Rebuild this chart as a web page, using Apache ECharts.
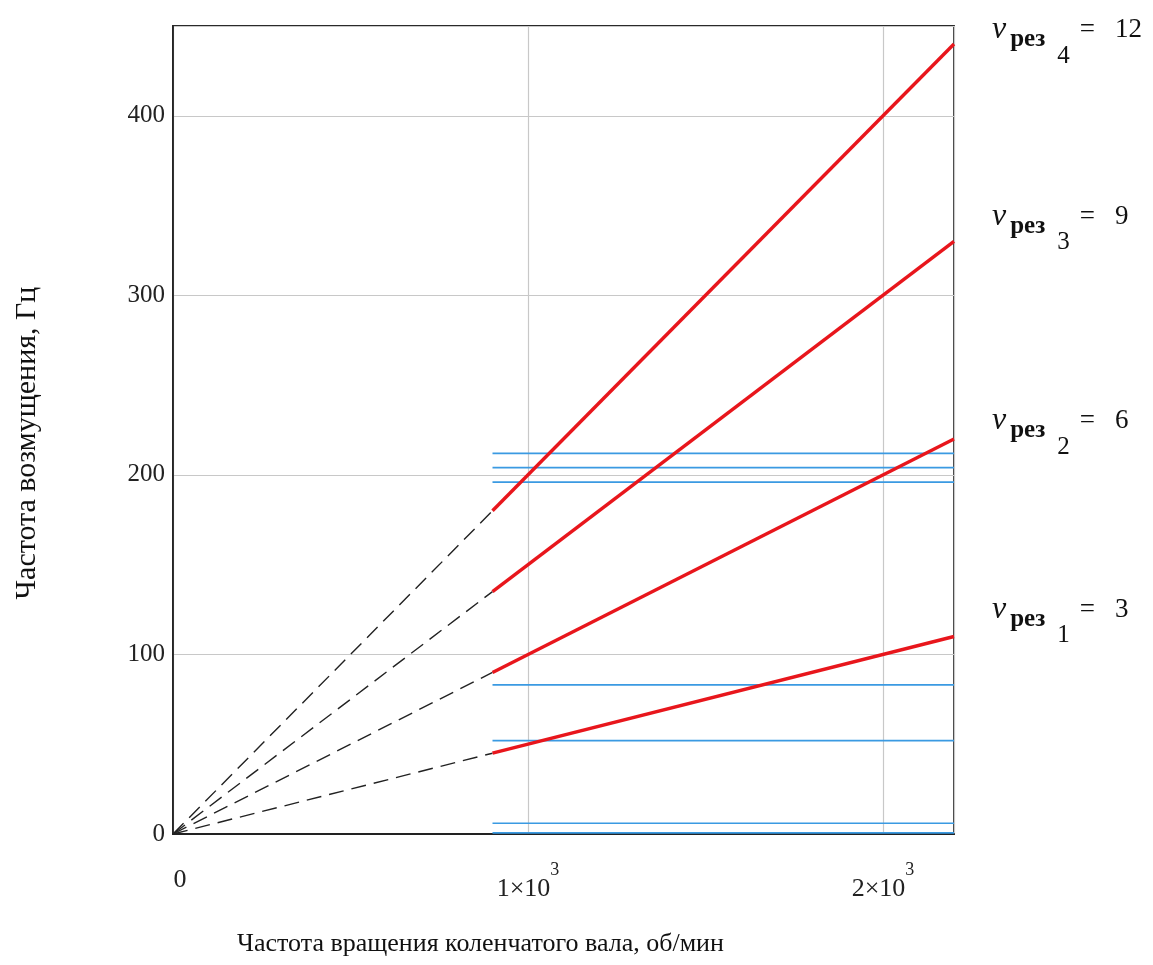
<!DOCTYPE html>
<html>
<head>
<meta charset="utf-8">
<script src="https://cdn.jsdelivr.net/npm/echarts@6/dist/echarts.min.js"></script>
<style>
  html, body { margin: 0; padding: 0; background: #fff; }
  #main { width: 1153px; height: 965px; }
</style>
</head>
<body>
<div id="main"></div>
<script>
// harmonic orders k, resonance frequency f = k * n / 60
var harmonics = [3, 6, 9, 12];
var dashedSpeed = [0, 900];
var solidSpeed = [900, 2200];
var dashedFreq = [[0, 45], [0, 90], [0, 135], [0, 180]];
var solidFreq = [[45, 110], [90, 220], [135, 330], [180, 440]];
// natural frequencies (blue)
var naturalSpeed = [900, 2200];
var naturalFreq = [0.6, 6, 52, 83, 196, 204, 212];
var xTicks = [0, 1000, 2000];
var yTicks = [0, 100, 200, 300, 400];

var labelDy = [-27, -18, -25, -14];
var serif = 'Liberation Serif';

var series = [];

naturalFreq.forEach(function (v) {
    series.push({
        type: 'line',
        data: [[naturalSpeed[0], v], [naturalSpeed[1], v]],
        symbol: 'none',
        silent: true,
        lineStyle: { color: '#3a9ae2', width: 1.7 },
        z: 3
    });
});

harmonics.forEach(function (k, i) {
    series.push({
        type: 'line',
        data: [[dashedSpeed[0], dashedFreq[i][0]], [dashedSpeed[1], dashedFreq[i][1]]],
        symbol: 'none',
        silent: true,
        lineStyle: { color: '#222', width: 1.4, type: [15, 8] },
        z: 2
    });
    series.push({
        type: 'line',
        data: [[solidSpeed[0], solidFreq[i][0]], [solidSpeed[1], solidFreq[i][1]]],
        symbol: 'none',
        silent: true,
        lineStyle: { color: '#e8161c', width: 3.4 },
        z: 4,
        endLabel: {
            show: true,
            offset: [30, labelDy[i]],
            formatter: function () {
                return '{nu|ν}{sub|рез}{idx|' + (i + 1) + '}{eq|=}{num|' + k + '}';
            },
            rich: {
                nu: { fontFamily: serif, fontStyle: 'italic', fontSize: 32, color: '#111' },
                sub: { fontFamily: serif, fontWeight: 'bold', fontSize: 25, color: '#111', padding: [20, 0, 0, 4] },
                idx: { fontFamily: serif, fontSize: 25, color: '#111', padding: [52, 10, 0, 12] },
                eq: { fontFamily: serif, fontSize: 27, color: '#111' },
                num: { fontFamily: serif, fontSize: 27, color: '#111', padding: [0, 0, 0, 20] }
            }
        }
    });
});

var chart = echarts.init(document.getElementById('main'));
chart.setOption({
    animation: false,
    backgroundColor: '#fff',
    grid: {
        left: 173, right: 199, top: 26, bottom: 131,
        show: true, borderColor: '#2a2a2a', borderWidth: 1.8, backgroundColor: 'transparent'
    },
    xAxis: {
        type: 'value',
        min: 0, max: 2200, interval: 1000,
        name: 'Частота вращения коленчатого вала, об/мин',
        nameLocation: 'middle',
        nameGap: 97,
        nameTextStyle: { fontFamily: serif, fontSize: 26, color: '#111', padding: [0, 166, 0, 0] },
        axisLine: { lineStyle: { color: '#222', width: 1.8 } },
        axisTick: { show: false },
        splitLine: { lineStyle: { color: '#c8c8c8', width: 1.2 } },
        axisLabel: {
            margin: 27,
            showMaxLabel: false,
            fontFamily: serif, fontSize: 26, color: '#222',
            formatter: function (v) {
                if (xTicks.indexOf(v) < 0) return '';
                if (v === 0) return '{z|0}';
                return '{m|' + (v / 1000) + '×10}{p|3}';
            },
            rich: {
                z: { fontFamily: serif, fontSize: 26, color: '#222', padding: [6, 0, 0, 14] },
                m: { fontFamily: serif, fontSize: 26, color: '#222' },
                p: { fontFamily: serif, fontSize: 18, color: '#222', padding: [0, 0, 38, 0] }
            }
        }
    },
    yAxis: {
        type: 'value',
        min: 0, max: 450, interval: 100,
        name: 'Частота возмущения, Гц',
        nameLocation: 'middle',
        nameGap: 131,
        nameTextStyle: { fontFamily: serif, fontSize: 30, color: '#111', padding: [0, 26, 0, 0] },
        axisLine: { show: true, lineStyle: { color: '#222', width: 1.8 } },
        axisTick: { show: false },
        splitLine: { lineStyle: { color: '#c8c8c8', width: 1.2 } },
        axisLabel: {
            margin: 8,
            showMaxLabel: false,
            fontFamily: serif, fontSize: 25, color: '#222',
            formatter: function (v) {
                return yTicks.indexOf(v) < 0 ? '' : String(v);
            }
        }
    },
    series: series
});
</script>
</body>
</html>
